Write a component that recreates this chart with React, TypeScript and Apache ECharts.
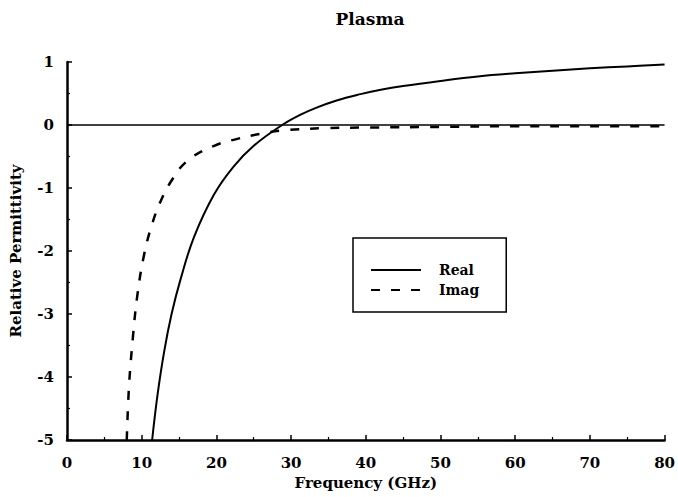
import React, { useEffect, useRef } from "react";
import * as echarts from "echarts";

const titleText = "Plasma";
const xAxisName = "Frequency (GHz)";
const yAxisName = "Relative Permittivity";
const seriesNames = ["Real", "Imag"];

const freqReal = [11.4, 12.1, 13.0, 14.0, 15.2, 17.0, 19.7, 22.3, 25.0, 28.8, 31.2, 33.5, 36.1, 39.3, 42, 45, 50, 55, 60, 66, 70, 75, 80];
const realValues = [-5, -4.3, -3.6, -3.0, -2.45, -1.78, -1.1, -0.66, -0.33, 0, 0.16, 0.28, 0.39, 0.49, 0.56, 0.62, 0.70, 0.77, 0.82, 0.87, 0.90, 0.93, 0.96];

const freqImag = [8.0, 8.3, 8.8, 9.4, 10.3, 11.4, 12.5, 13.9, 16.1, 19.7, 22.8, 25.9, 28.6, 34.3, 40.6, 50, 60, 70, 80];
const imagValues = [-5, -4.15, -3.4, -2.72, -2.07, -1.57, -1.22, -0.9, -0.57, -0.33, -0.22, -0.14, -0.09, -0.05, -0.04, -0.03, -0.02, -0.02, -0.02];

const FONT = "DejaVu Serif";

export default function App() {
  const ref = useRef<HTMLDivElement>(null);
  useEffect(() => {
    document.body.style.margin = "0";
    if (!ref.current) return;
    const chart = echarts.init(ref.current, null, { renderer: "svg" });
    const realData = freqReal.map((f, i) => [f, realValues[i]]);
    const imagData = freqImag.map((f, i) => [f, imagValues[i]]);
    chart.setOption({
      animation: false,
      backgroundColor: "#fff",
      title: {
        text: titleText,
        left: 365,
        top: 5,
        textAlign: "center",
        textStyle: { fontFamily: FONT, fontWeight: "bold", fontSize: 17, color: "#000" },
      },
      grid: { left: 66, right: 13, top: 62, bottom: 57 },
      legend: {
        orient: "vertical",
        left: 353,
        top: 238,
        padding: [24, 27, 14, 17],
        borderColor: "#000",
        borderWidth: 1.5,
        itemWidth: 50,
        itemHeight: 14,
        itemGap: 4,
        data: seriesNames,
        itemStyle: { opacity: 0 },
        textStyle: {
          fontFamily: FONT,
          fontWeight: "bold",
          fontSize: 14,
          color: "#000",
          lineHeight: 16,
          padding: [0, 0, 0, 13],
        },
      },
      xAxis: {
        type: "value",
        min: 0,
        max: 80,
        interval: 10,
        name: xAxisName,
        nameLocation: "middle",
        nameGap: 35,
        nameTextStyle: { fontFamily: FONT, fontWeight: "bold", fontSize: 15, color: "#000" },
        axisLine: { onZero: false, lineStyle: { color: "#000", width: 2.5 } },
        axisTick: { inside: true, length: 5, lineStyle: { color: "#000", width: 1.5 } },
        minorTick: { show: true, splitNumber: 2, length: 3, lineStyle: { color: "#000", width: 1.2 } },
        splitLine: { show: false },
        axisLabel: { fontFamily: FONT, fontWeight: "bold", fontSize: 15, color: "#000", margin: 15 },
      },
      yAxis: {
        type: "value",
        min: -5,
        max: 1,
        interval: 1,
        name: yAxisName,
        nameLocation: "middle",
        nameGap: 44,
        nameTextStyle: { fontFamily: FONT, fontWeight: "bold", fontSize: 15, color: "#000" },
        axisLine: { lineStyle: { color: "#000", width: 2.5 } },
        axisTick: { inside: true, length: 5, lineStyle: { color: "#000", width: 1.5 } },
        minorTick: { show: true, splitNumber: 2, length: 3, lineStyle: { color: "#000", width: 1.2 } },
        splitLine: { show: false },
        axisLabel: { fontFamily: FONT, fontWeight: "bold", fontSize: 15, color: "#000", margin: 13 },
      },
      series: [
        {
          name: seriesNames[0],
          type: "line",
          data: realData,
          symbol: "none",
          smooth: 0.4,
          lineStyle: { color: "#000", width: 2, type: "solid" },
          itemStyle: { color: "#000" },
          markLine: {
            silent: true,
            symbol: "none",
            label: { show: false },
            lineStyle: { color: "#000", width: 1.5, type: "solid" },
            data: [{ yAxis: 0 }],
          },
          z: 3,
        },
        {
          name: seriesNames[1],
          type: "line",
          data: imagData,
          symbol: "none",
          smooth: 0.4,
          lineStyle: { color: "#000", width: 2.5, type: [9, 11] },
          itemStyle: { color: "#000" },
          z: 4,
        },
      ],
    });
    return () => chart.dispose();
  }, []);
  return <div ref={ref} style={{ width: 678, height: 497 }} />;
}
